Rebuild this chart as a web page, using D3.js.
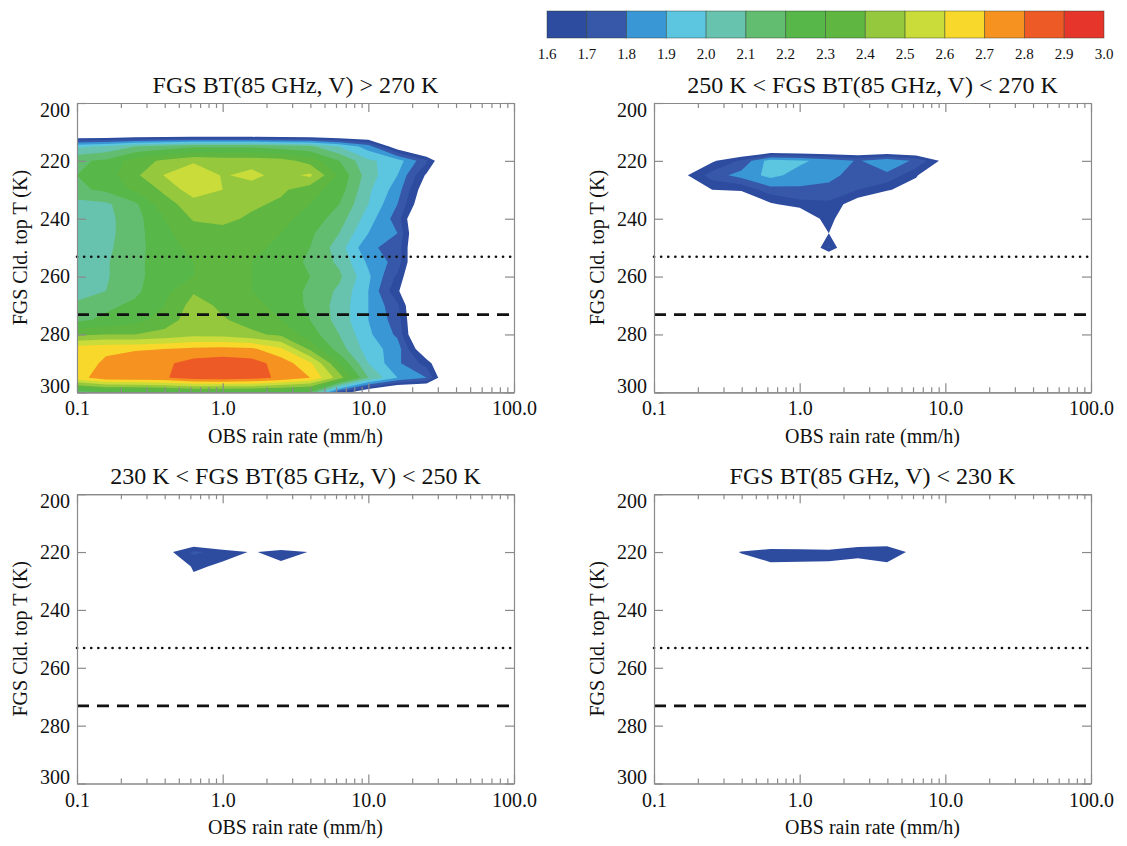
<!DOCTYPE html>
<html>
<head>
<meta charset="utf-8">
<script src="https://cdn.jsdelivr.net/npm/d3@7"></script>
<style>
  body { margin: 0; background: #fff; }
  text { font-family: "Liberation Serif", "Times New Roman", serif; fill: #111; }
</style>
</head>
<body>
<div id="chart"></div>
<script>
// rain rate bin centres (mm/h), 5 bins per decade
const rainRate = [0.1, 0.158, 0.251, 0.398, 0.631, 1.0, 1.585, 2.512, 3.981, 6.31, 10, 15.85, 25.12, 39.81, 63.1, 100];
// cloud top temperature bins (K)
const cloudTopT = [200, 205, 210, 215, 220, 225, 230, 235, 240, 245, 250, 255, 260, 265, 270, 275, 280, 285, 290, 295, 300];

const levels = [1.6, 1.7, 1.8, 1.9, 2.0, 2.1, 2.2, 2.3, 2.4, 2.5, 2.6, 2.7, 2.8, 2.9, 3.0];
const levelColors = ["#2d4b9f", "#3758a9", "#3a97d6", "#5cc6e0", "#67c3ae", "#63bd70", "#57b749",
                     "#5fb741", "#95c83d", "#c9dc3a", "#f7d82b", "#f6921f", "#ee5a25", "#e6352b"];

const xTicks = [0.1, 1, 10, 100];
const yTicks = [200, 220, 240, 260, 280, 300];
const minus20T = 253.15;   // dotted
const freezingT = 273.15;  // dashed

// gridded values, rows = cloudTopT, cols = rainRate, 0 = empty bin
const gridAbove270 = [
  [0, 0, 0, 0, 0, 0, 0, 0, 0, 0, 0, 0, 0, 0, 0, 0],
  [0, 0, 0, 0, 0, 0, 0, 0, 0, 0, 0, 0, 0, 0, 0, 0],
  [0, 0, 0, 0, 0, 0, 0, 0, 0, 0, 0, 0, 0, 0, 0, 0],
  [1.98, 2.02, 2.1, 2.14, 2.18, 2.18, 2.18, 2.15, 2.12, 2.0, 1.85, 1.5, 0, 0, 0, 0],
  [2.18, 2.22, 2.35, 2.42, 2.48, 2.46, 2.46, 2.44, 2.36, 2.2, 2.02, 1.95, 1.72, 0, 0, 0],
  [2.2, 2.25, 2.38, 2.505, 2.6, 2.49, 2.53, 2.46, 2.52, 2.28, 2.05, 1.9, 1.58, 0, 0, 0],
  [2.18, 2.22, 2.32, 2.42, 2.56, 2.5, 2.45, 2.42, 2.34, 2.25, 2.02, 1.85, 1.5, 0, 0, 0],
  [2.06, 2.08, 2.18, 2.36, 2.45, 2.47, 2.42, 2.38, 2.3, 2.2, 2.0, 1.8, 1.45, 0, 0, 0],
  [2.05, 2.07, 2.16, 2.3, 2.41, 2.43, 2.38, 2.33, 2.26, 2.15, 1.95, 1.75, 0, 0, 0, 0],
  [2.05, 2.07, 2.16, 2.28, 2.35, 2.36, 2.34, 2.3, 2.22, 2.1, 1.9, 1.8, 0, 0, 0, 0],
  [2.05, 2.08, 2.16, 2.27, 2.32, 2.34, 2.32, 2.28, 2.2, 2.05, 1.82, 1.76, 0, 0, 0, 0],
  [2.05, 2.09, 2.17, 2.26, 2.3, 2.32, 2.3, 2.26, 2.18, 2.08, 1.88, 1.76, 0, 0, 0, 0],
  [2.05, 2.09, 2.17, 2.26, 2.3, 2.32, 2.3, 2.26, 2.2, 2.12, 1.92, 1.68, 0, 0, 0, 0],
  [2.06, 2.1, 2.18, 2.27, 2.39, 2.34, 2.3, 2.26, 2.18, 2.08, 1.9, 1.62, 0, 0, 0, 0],
  [2.12, 2.18, 2.22, 2.3, 2.44, 2.38, 2.33, 2.27, 2.18, 2.06, 1.9, 1.72, 0, 0, 0, 0],
  [2.18, 2.22, 2.26, 2.35, 2.45, 2.41, 2.36, 2.3, 2.2, 2.06, 1.9, 1.75, 0, 0, 0, 0],
  [2.38, 2.4, 2.4, 2.43, 2.47, 2.46, 2.42, 2.38, 2.25, 2.1, 1.92, 1.78, 0, 0, 0, 0],
  [2.66, 2.68, 2.69, 2.7, 2.72, 2.73, 2.72, 2.62, 2.38, 2.15, 1.95, 1.85, 1.45, 0, 0, 0],
  [2.64, 2.72, 2.76, 2.78, 2.84, 2.86, 2.84, 2.76, 2.62, 2.3, 2.0, 1.82, 1.66, 0, 0, 0],
  [2.66, 2.76, 2.78, 2.79, 2.85, 2.86, 2.84, 2.78, 2.7, 2.45, 2.1, 1.9, 1.8, 0, 0, 0],
  [2.15, 2.2, 2.2, 2.22, 2.25, 2.25, 2.25, 2.22, 2.2, 1.7, 1.45, 0, 0, 0, 0, 0]
];

// sparse panels: rows starting at 220 K
const grid250to270 = [
  [0, 1.45, 1.58, 1.72, 1.95, 1.92, 1.86, 1.79, 1.87, 1.78, 1.55, 0, 0, 0, 0, 0],
  [0, 1.57, 1.75, 1.84, 1.93, 1.86, 1.84, 1.74, 1.78, 1.62, 0, 0, 0, 0, 0, 0],
  [0, 0, 1.6, 1.62, 1.76, 1.78, 1.76, 1.7, 1.62, 1.5, 0, 0, 0, 0, 0, 0],
  [0, 0, 0, 1.4, 1.58, 1.66, 1.68, 1.52, 0, 0, 0, 0, 0, 0, 0, 0],
  [0, 0, 0, 0, 0, 1.42, 1.68, 0, 0, 0, 0, 0, 0, 0, 0, 0],
  [0, 0, 0, 0, 0, 0, 1.6, 0, 0, 0, 0, 0, 0, 0, 0, 0],
  [0, 0, 0, 0, 0, 0, 1.72, 0, 0, 0, 0, 0, 0, 0, 0, 0]
];
// rows starting at 215 K
const grid230to250 = [
  [0, 0, 0, 0, 1.4, 0, 0, 1.35, 0, 0, 0, 0, 0, 0, 0, 0],
  [0, 0, 0, 1.55, 1.72, 1.66, 1.59, 1.64, 1.596, 0, 0, 0, 0, 0, 0, 0],
  [0, 0, 0, 0, 1.63, 1.569, 0, 1.575, 0, 0, 0, 0, 0, 0, 0, 0],
  [0, 0, 0, 0, 1.55, 0, 0, 0, 0, 0, 0, 0, 0, 0, 0, 0]
];
// rows starting at 215 K
const gridBelow230 = [
  [0, 0, 0, 0, 0, 0, 0, 1.43, 1.48, 0, 0, 0, 0, 0, 0, 0],
  [0, 0, 1.5, 1.61, 1.68, 1.67, 1.66, 1.69, 1.68, 1.557, 0, 0, 0, 0, 0, 0],
  [0, 0, 0, 1.5, 1.566, 1.566, 1.566, 1.483, 1.566, 0, 0, 0, 0, 0, 0, 0]
];

const W = 1127, H = 846;
const FLOOR = 1.3;   // stand-in value for empty bins
const axisColor = "#8a8a8a";
const pw = 437, ph = 289.3;

const svg = d3.select("#chart").append("svg").attr("width", W).attr("height", H);

function expand(rows, startT) {
  return cloudTopT.map(t => {
    const i = (t - startT) / 5;
    return (i >= 0 && i < rows.length) ? rows[i] : rainRate.map(() => 0);
  });
}

const panels = [
  {title: "FGS BT(85 GHz, V) > 270 K", grid: gridAbove270, x0: 77, y0: 103},
  {title: "250 K < FGS BT(85 GHz, V) < 270 K", grid: expand(grid250to270, 220), x0: 654, y0: 103},
  {title: "230 K < FGS BT(85 GHz, V) < 250 K", grid: expand(grid230to250, 215), x0: 77, y0: 494.2},
  {title: "FGS BT(85 GHz, V) < 230 K", grid: expand(gridBelow230, 215), x0: 654, y0: 494.2}
];

const lx = rainRate.map(Math.log10);
function interp(arr, c) {
  const i = c - 0.5;
  const k = Math.max(0, Math.min(arr.length - 2, Math.floor(i)));
  return arr[k] + (i - k) * (arr[k + 1] - arr[k]);
}

panels.forEach(function(p, pi) {
  const g = svg.append("g").attr("transform", "translate(" + p.x0 + "," + p.y0 + ")");
  const x = d3.scaleLog().domain([0.1, 100]).range([0, pw]);
  const y = d3.scaleLinear().domain([200, 300]).range([0, ph]);

  const values = p.grid.flat().map(v => v > 0 ? v : FLOOR);
  const contours = d3.contours()
      .size([rainRate.length, cloudTopT.length])
      .thresholds(levels.slice(0, -1))(values);

  const proj = d3.geoTransform({
    point: function(cx, cy) {
      this.stream.point(x(Math.pow(10, interp(lx, cx))), y(interp(cloudTopT, cy)));
    }
  });
  const path = d3.geoPath(proj);

  g.append("clipPath").attr("id", "clip" + pi)
    .append("rect").attr("width", pw).attr("height", ph);

  g.append("g").attr("clip-path", "url(#clip" + pi + ")")
    .selectAll("path")
    .data(contours)
    .join("path")
      .attr("d", path)
      .attr("fill", (d, j) => levelColors[j]);

  // reference lines
  g.append("line")
      .attr("x1", 0).attr("x2", pw)
      .attr("y1", y(minus20T)).attr("y2", y(minus20T))
      .attr("stroke", "#111").attr("stroke-width", 2.6)
      .attr("stroke-linecap", "round")
      .attr("stroke-dasharray", "0.1,7");
  g.append("line")
      .attr("x1", 0).attr("x2", pw)
      .attr("y1", y(freezingT)).attr("y2", y(freezingT))
      .attr("stroke", "#111").attr("stroke-width", 2.8)
      .attr("stroke-dasharray", "12,8");

  // axes
  const minor = [0.1, 1, 10].flatMap(d => d3.range(2, 10).map(k => d * k));
  const bottom = g.append("g").attr("transform", "translate(0," + ph + ")")
    .call(d3.axisBottom(x).tickValues(xTicks).tickSize(-9).tickSizeOuter(0)
      .tickPadding(9).tickFormat(d3.format(".1f")));
  bottom.append("g").call(d3.axisBottom(x).tickValues(minor).tickSize(-5).tickSizeOuter(0).tickFormat(""));
  const top = g.append("g")
    .call(d3.axisTop(x).tickValues(xTicks).tickSize(-9).tickSizeOuter(0).tickFormat(""));
  top.append("g").call(d3.axisTop(x).tickValues(minor).tickSize(-5).tickSizeOuter(0).tickFormat(""));

  const left = g.append("g")
    .call(d3.axisLeft(y).tickValues(yTicks).tickSize(-9).tickSizeOuter(0).tickPadding(7));
  left.selectAll(".tick text").filter(d => d === 200).attr("dy", "0.68em");
  left.selectAll(".tick text").filter(d => d === 300).attr("dy", "0.02em");
  g.append("g").attr("transform", "translate(" + pw + ",0)")
    .call(d3.axisRight(y).tickValues(yTicks).tickSize(-9).tickSizeOuter(0).tickFormat(""));

  g.selectAll(".domain, .tick line").attr("stroke", axisColor).attr("stroke-width", 1.2);
  g.selectAll(".tick text").attr("font-size", 20).attr("font-family", "Liberation Serif").attr("fill", "#111");

  // titles
  g.append("text")
      .attr("x", pw / 2).attr("y", -10)
      .attr("text-anchor", "middle")
      .attr("font-size", 24)
      .text(p.title);
  g.append("text")
      .attr("x", pw / 2).attr("y", ph + 51)
      .attr("text-anchor", "middle")
      .attr("font-size", 20)
      .text("OBS rain rate (mm/h)");
  g.append("text")
      .attr("transform", "translate(-57," + (ph / 2) + ") rotate(-90)")
      .attr("text-anchor", "middle")
      .attr("dy", "0.35em")
      .attr("font-size", 20)
      .text("FGS Cld. top T (K)");
});

// colour bar
const cb = d3.scaleLinear().domain([1.6, 3.0]).range([547, 1104]);
const cbTop = 11, cbH = 27;
const bar = svg.append("g");
bar.selectAll("rect")
  .data(levels.slice(0, -1))
  .join("rect")
    .attr("x", d => cb(d))
    .attr("y", cbTop)
    .attr("width", (d, i) => cb(levels[i + 1]) - cb(d))
    .attr("height", cbH)
    .attr("fill", (d, i) => levelColors[i])
    .attr("stroke", "#2a3a2a")
    .attr("stroke-opacity", 0.55)
    .attr("stroke-width", 0.8);
bar.selectAll("text")
  .data(levels)
  .join("text")
    .attr("x", d => cb(d))
    .attr("y", cbTop + cbH + 21)
    .attr("text-anchor", "middle")
    .attr("font-size", 15)
    .text(d => d.toFixed(1));
</script>
</body>
</html>
